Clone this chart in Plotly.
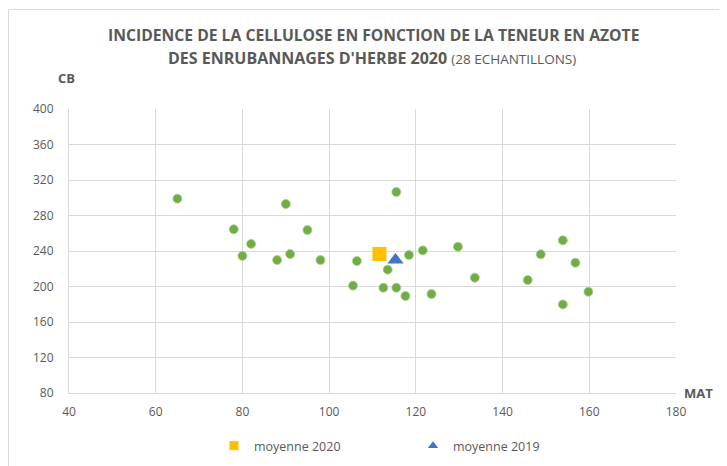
import plotly.graph_objects as go

# Data
mat = [65, 78, 82, 80, 90, 95, 91, 88, 98, 115.5, 106.4, 118.4, 121.6, 129.7,
       113.5, 105.5, 112.5, 115.5, 117.6, 123.6, 133.6, 145.8, 148.8, 153.9,
       156.8, 159.8, 153.9]
cb = [299, 264.5, 248, 234.5, 293, 263.7, 236.6, 229.8, 229.8, 306.5, 228.7,
      235.5, 240.7, 244.8, 219, 201, 198.6, 198.6, 189.3, 191.5, 209.9, 207.3,
      236.2, 252, 226.8, 194.1, 179.8]
moy2020_x = [111.6]
moy2020_y = [236.6]
moy2019_x = [115.3]
moy2019_y = [230.0]

x_ticks = [40, 60, 80, 100, 120, 140, 160, 180]
y_ticks = [80, 120, 160, 200, 240, 280, 320, 360, 400]

FONT = "Open Sans"
GRAY = "#595959"
C2020 = "#ffc000"
C2019 = "#4472c4"

fig = go.Figure()
fig.add_trace(go.Scatter(
    x=mat, y=cb, mode="markers", showlegend=False, name="échantillons",
    marker=dict(size=9, color="#70ad47", line=dict(color="#a9d18e", width=0.8)),
))
fig.add_trace(go.Scatter(
    x=moy2020_x, y=moy2020_y, mode="markers", name="moyenne 2020", showlegend=False,
    marker=dict(symbol="square", size=14, color=C2020),
))
fig.add_trace(go.Scatter(
    x=moy2019_x, y=moy2019_y, mode="markers", name="moyenne 2019", showlegend=False,
    marker=dict(symbol="triangle-up", size=14, color=C2019),
))
# legend entries (smaller symbols, like the reference legend)
fig.add_trace(go.Scatter(x=[None], y=[None], mode="markers", name="moyenne 2020",
                         marker=dict(symbol="square", size=9, color=C2020)))
fig.add_trace(go.Scatter(x=[None], y=[None], mode="markers", name="moyenne 2019",
                         marker=dict(symbol="triangle-up", size=9, color=C2019)))

# page offset of the plot div (body margin) is 8px
OFF = 8
L, R, T, B = 69, 676, 109, 393          # plot area in page pixels
W, H = 727 - OFF, 466 - OFF

def px(xp):
    return (xp - L) / (R - L)

def py(yp):
    return (B - yp) / (B - T)

annotations = [
    dict(text="<b>INCIDENCE DE LA CELLULOSE EN FONCTION DE LA TENEUR EN AZOTE</b>",
         x=px(373), y=py(35), xref="paper", yref="paper", showarrow=False,
         font=dict(family=FONT, size=15.7, color=GRAY), xanchor="center", yanchor="middle"),
    dict(text="<b>DES ENRUBANNAGES D'HERBE 2020</b> <span style='font-size:13.5px'>(28 ECHANTILLONS)</span>",
         x=px(372), y=py(58), xref="paper", yref="paper", showarrow=False,
         font=dict(family=FONT, size=16, color=GRAY), xanchor="center", yanchor="middle"),
    dict(text="<b>CB</b>", x=px(66), y=py(78), xref="paper", yref="paper", showarrow=False,
         font=dict(family=FONT, size=13, color=GRAY), xanchor="center", yanchor="middle"),
    dict(text="<b>MAT</b>", x=px(698), y=py(393), xref="paper", yref="paper", showarrow=False,
         font=dict(family=FONT, size=13, color=GRAY), xanchor="center", yanchor="middle"),
]

shapes = [
    dict(type="rect", xref="paper", yref="paper", x0=px(8.5), y0=py(9.5), x1=px(760), y1=py(500),
         line=dict(color="#d9d9d9", width=1), layer="below"),
]

fig.update_layout(
    width=W, height=H,
    margin=dict(l=L - OFF, r=W - (R - OFF), t=T - OFF, b=H - (B - OFF), pad=0, autoexpand=False),
    paper_bgcolor="white", plot_bgcolor="white",
    font=dict(family=FONT, size=12, color=GRAY),
    annotations=annotations, shapes=shapes,
    legend=dict(orientation="h", x=px(214), y=py(446), xanchor="left", yanchor="middle",
                font=dict(family=FONT, size=12.5, color=GRAY), entrywidth=154,
                bgcolor="rgba(0,0,0,0)"),
)
fig.update_xaxes(range=[40, 180], tickvals=x_ticks, showgrid=True, gridcolor="#d9d9d9",
                 gridwidth=1, zeroline=False, showline=True, linecolor="#d9d9d9",
                 ticks="", tickfont=dict(family=FONT, size=12, color=GRAY), ticklabelstandoff=8)
fig.update_yaxes(range=[80, 400], tickvals=y_ticks, showgrid=True, gridcolor="#d9d9d9",
                 gridwidth=1, zeroline=False, showline=True, linecolor="#d9d9d9",
                 ticks="", tickfont=dict(family=FONT, size=12, color=GRAY), ticklabelstandoff=12)

fig.write_html("out.html")
